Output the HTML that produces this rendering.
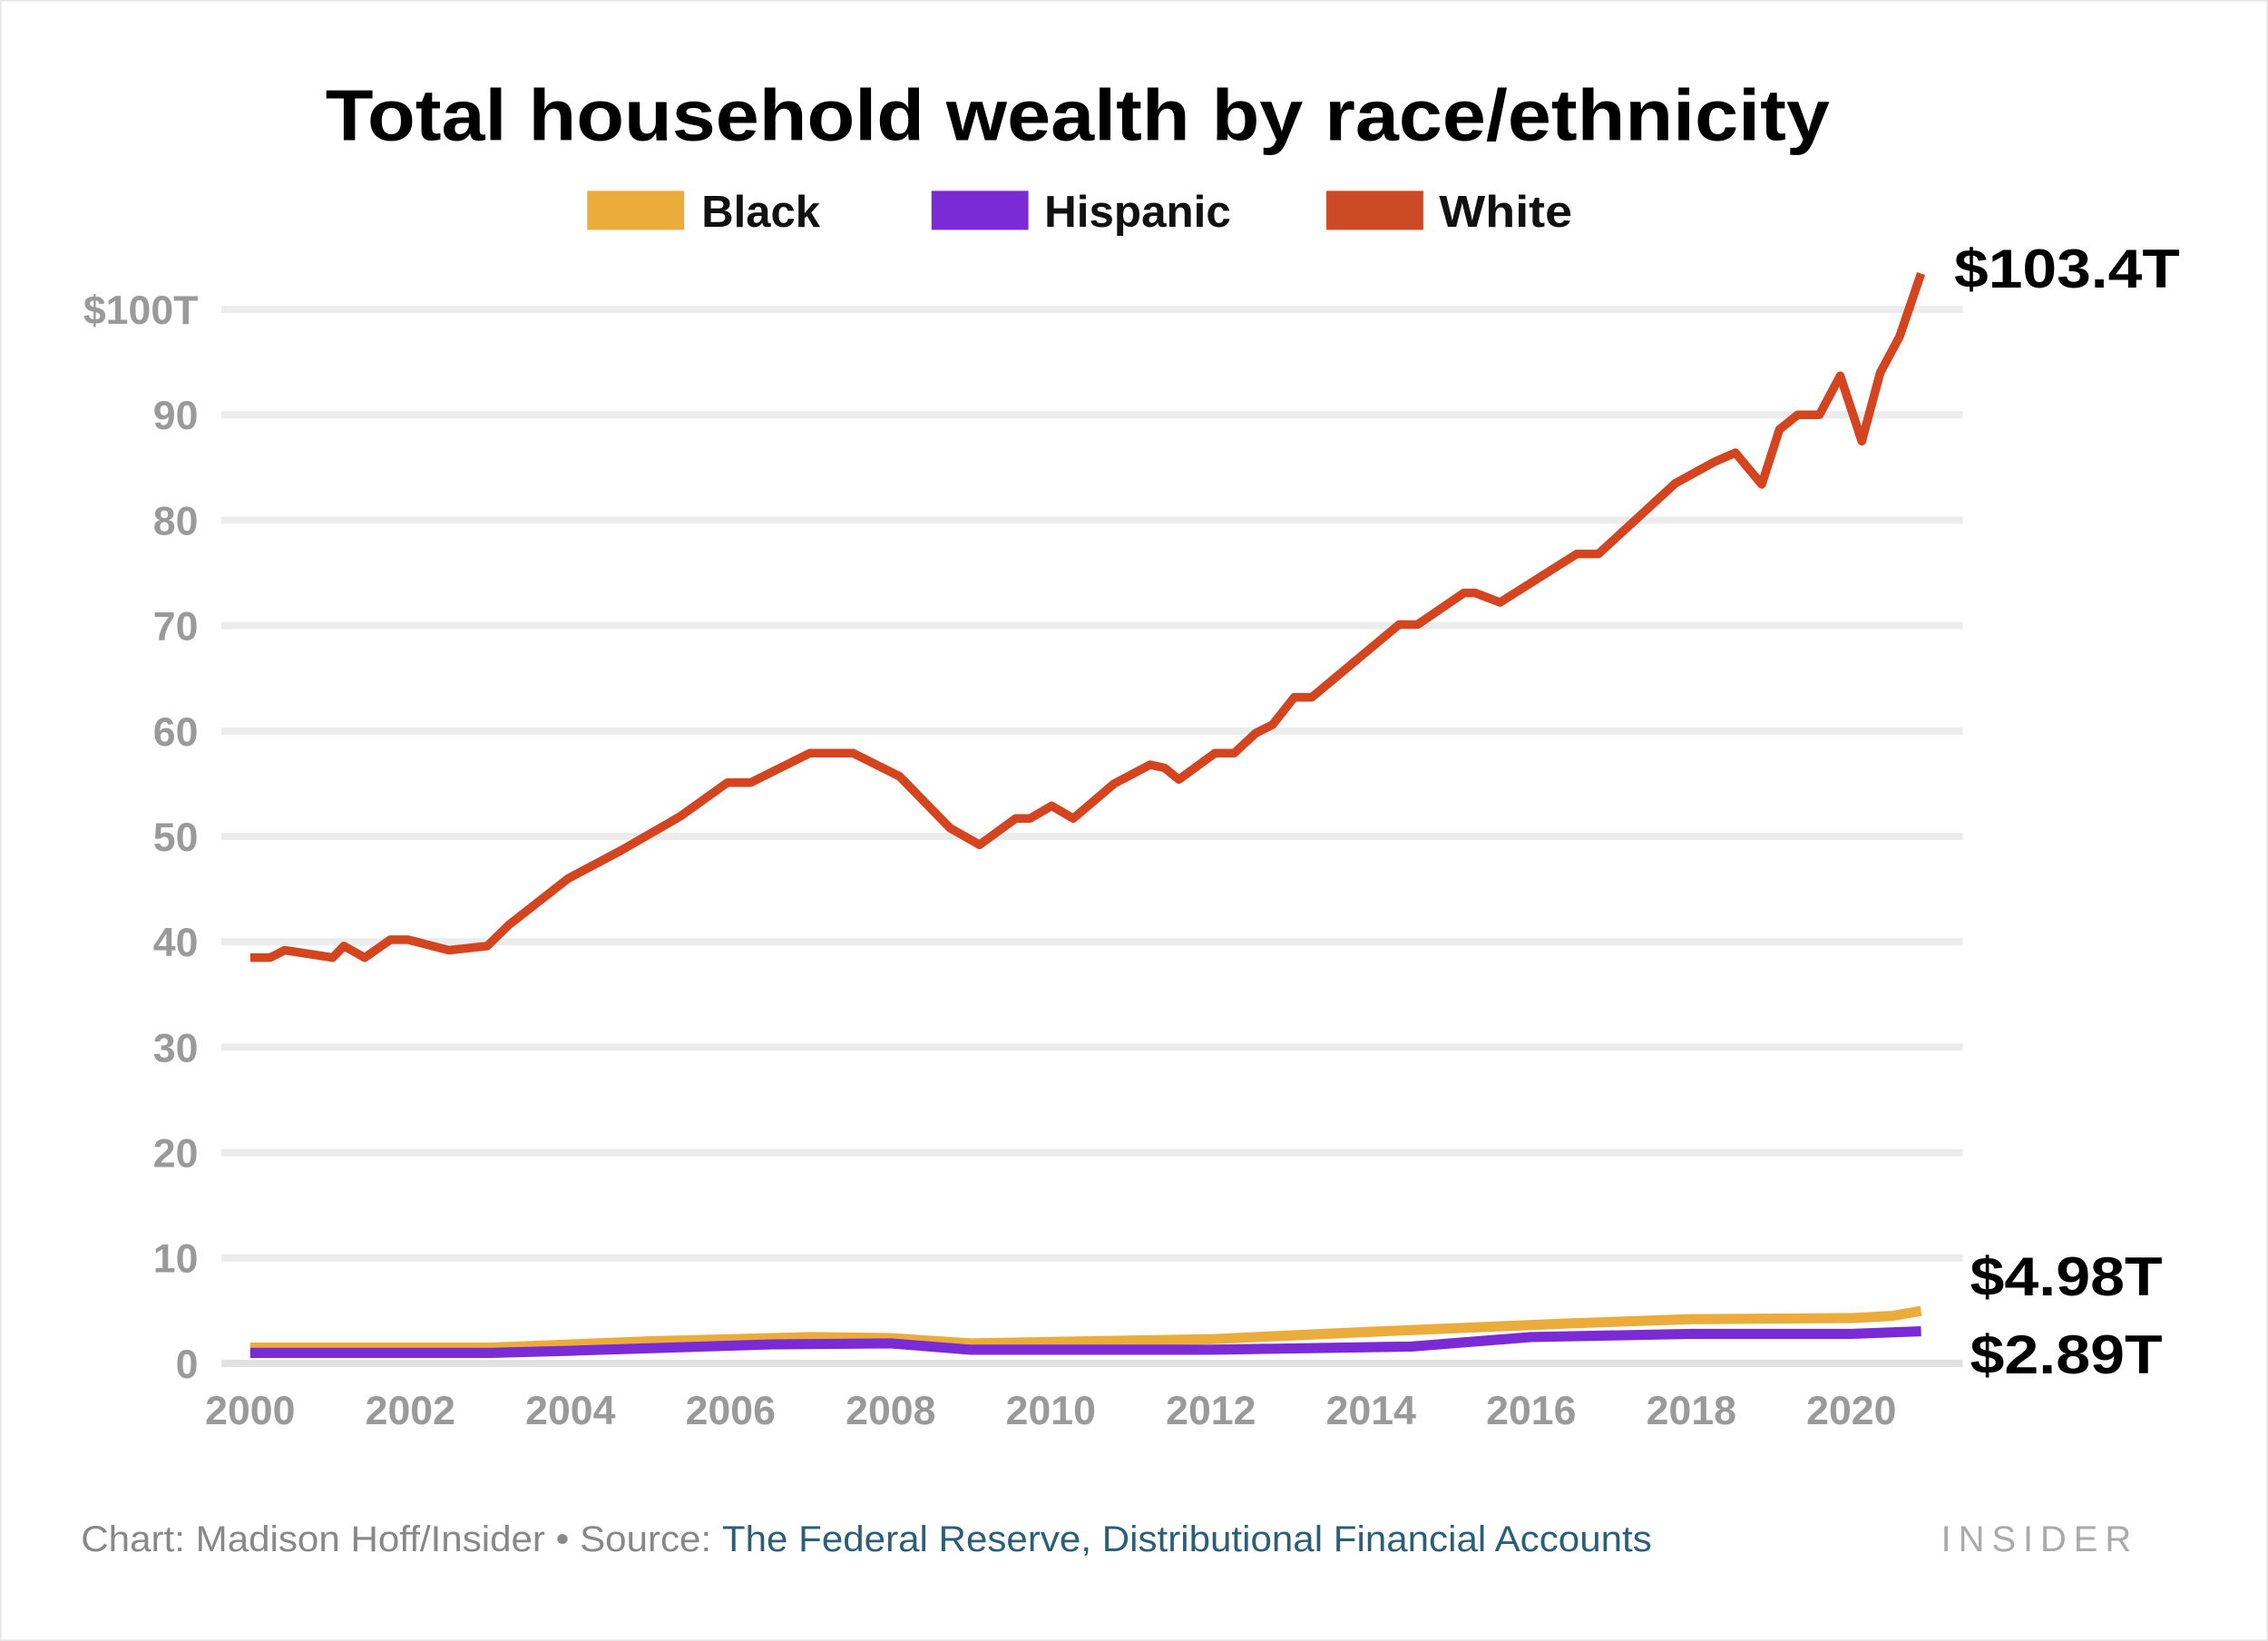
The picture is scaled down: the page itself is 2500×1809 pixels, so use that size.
<!DOCTYPE html>
<html><head><meta charset="utf-8"><style>
html,body{margin:0;padding:0;background:#fff;}
svg{display:block;font-family:"Liberation Sans",sans-serif;}
</style></head><body>
<svg width="2500" height="1809" viewBox="0 0 1568 1135" preserveAspectRatio="none">
<rect x="0" y="0" width="1568" height="1135" fill="#fff" stroke="#e6e6e6" stroke-width="2"/>
<text x="745" y="97" text-anchor="middle" font-size="50" font-weight="bold" fill="#000" textLength="1040" lengthAdjust="spacingAndGlyphs">Total household wealth by race/ethnicity</text>
<g>
<g><rect x="406" y="132" width="67" height="27" fill="#ebac3c"/><text x="485" y="157" font-size="31" font-weight="bold" fill="#111" textLength="82" lengthAdjust="spacingAndGlyphs">Black</text></g>
<g><rect x="644" y="132" width="67" height="27" fill="#7b2bd6"/><text x="722" y="157" font-size="31" font-weight="bold" fill="#111" textLength="129" lengthAdjust="spacingAndGlyphs">Hispanic</text></g>
<g><rect x="917" y="132" width="67" height="27" fill="#cc4a26"/><text x="995" y="157" font-size="31" font-weight="bold" fill="#111" textLength="92" lengthAdjust="spacingAndGlyphs">White</text></g>
</g>
<g id="grid"></g>
<g id="yaxis"></g>
<g id="xaxis"></g>
<g id="series"></g>
<text x="1351" y="199" font-size="38" font-weight="bold" fill="#000" textLength="156" lengthAdjust="spacingAndGlyphs">$103.4T</text>
<text x="1362" y="896" font-size="38" font-weight="bold" fill="#000" textLength="133" lengthAdjust="spacingAndGlyphs">$4.98T</text>
<text x="1362" y="950" font-size="38" font-weight="bold" fill="#000" textLength="133" lengthAdjust="spacingAndGlyphs">$2.89T</text>
<text x="56" y="1073" font-size="25" fill="#888" textLength="1086" lengthAdjust="spacingAndGlyphs">Chart: Madison Hoff/Insider • Source: <tspan fill="#2b5f78">The Federal Reserve, Distributional Financial Accounts</tspan></text>
<text x="1342" y="1073" font-size="25" fill="#aaa" letter-spacing="5">INSIDER</text>
</svg>
<script>
const yTicks=[0,10,20,30,40,50,60,70,80,90,100];
const yTickLabels=["0","10","20","30","40","50","60","70","80","90","$100T"];
const xTicks=[2000,2002,2004,2006,2008,2010,2012,2014,2016,2018,2020];
const whiteYears=[2000,2000.25,2000.43,2001.03,2001.17,2001.43,2001.75,2001.97,2002.48,2002.96,2003.23,2003.97,2004.64,2005.37,2005.96,2006.25,2006.99,2007.53,2008.11,2008.74,2009.11,2009.56,2009.74,2010.01,2010.28,2010.79,2011.24,2011.42,2011.6,2012.05,2012.29,2012.56,2012.77,2013.04,2013.26,2014.35,2014.58,2015.16,2015.3,2015.61,2016.57,2016.84,2017.8,2018.28,2018.55,2018.88,2019.1,2019.33,2019.6,2019.86,2020.13,2020.36,2020.6,2020.87];
const whiteValues=[38.5,38.5,39.2,38.5,39.6,38.5,40.2,40.2,39.2,39.6,41.6,46.0,48.7,51.9,55.1,55.1,57.9,57.9,55.7,50.8,49.2,51.7,51.7,52.9,51.7,55.0,56.8,56.5,55.4,57.9,57.9,59.8,60.6,63.2,63.2,70.1,70.1,73.1,73.1,72.2,76.8,76.8,83.5,85.5,86.4,83.4,88.6,90.0,90.0,93.7,87.5,94.0,97.4,103.4];
const blackYears=[2000,2003,2005,2007,2008,2009,2012,2014,2016.5,2018,2020,2020.5,2020.87];
const blackValues=[1.5,1.5,2.1,2.5,2.4,1.9,2.3,3.0,3.8,4.2,4.3,4.5,4.98];
const hispYears=[2000,2003,2004,2006.5,2008,2009,2012,2014.5,2016,2018,2020,2020.87];
const hispValues=[1.0,1.0,1.2,1.8,1.9,1.3,1.3,1.6,2.5,2.8,2.8,3.05];
const NS='http://www.w3.org/2000/svg';
function xs(y){return 173+(y-2000)*55.35;}
function ys(v){return 943-v*7.29;}
const grid=document.getElementById('grid'),ya=document.getElementById('yaxis'),xa=document.getElementById('xaxis'),se=document.getElementById('series');
yTicks.forEach((t,i)=>{
 const l=document.createElementNS(NS,'line');
 
 
 l.setAttribute('x1',153);l.setAttribute('x2',1357);l.setAttribute('y1',ys(t));l.setAttribute('y2',ys(t));
 l.setAttribute('stroke',t===0?'#e2e2e2':'#ececec');l.setAttribute('stroke-width',5);grid.appendChild(l);
 const tx=document.createElementNS(NS,'text');
 
 
 tx.setAttribute('x',137);tx.setAttribute('y',ys(t)+10);tx.setAttribute('text-anchor','end');
 tx.setAttribute('font-size','28');tx.setAttribute('font-weight','bold');tx.setAttribute('fill','#9a9a9a');tx.textContent=yTickLabels[i];ya.appendChild(tx);
});
xTicks.forEach(t=>{
 const tx=document.createElementNS(NS,'text');
 
 
 tx.setAttribute('x',xs(t));tx.setAttribute('y',985);tx.setAttribute('text-anchor','middle');
 tx.setAttribute('font-size','28');tx.setAttribute('font-weight','bold');tx.setAttribute('fill','#9a9a9a');tx.textContent=t;xa.appendChild(tx);
});
function line(xsArr,vals,color,name,w){
 const p=document.createElementNS(NS,'polyline');
 
 
 p.setAttribute('points',xsArr.map((y,i)=>xs(y)+','+ys(vals[i])).join(' '));
 p.setAttribute('fill','none');p.setAttribute('stroke',color);p.setAttribute('stroke-width',w);
 p.setAttribute('stroke-linejoin','round');se.appendChild(p);
}
line(blackYears,blackValues,'#ebac3c','black-line',7);
line(hispYears,hispValues,'#7b2bd6','hispanic-line',7);
line(whiteYears,whiteValues,'#d4451f','white-line',6);
</script>
</body></html>
